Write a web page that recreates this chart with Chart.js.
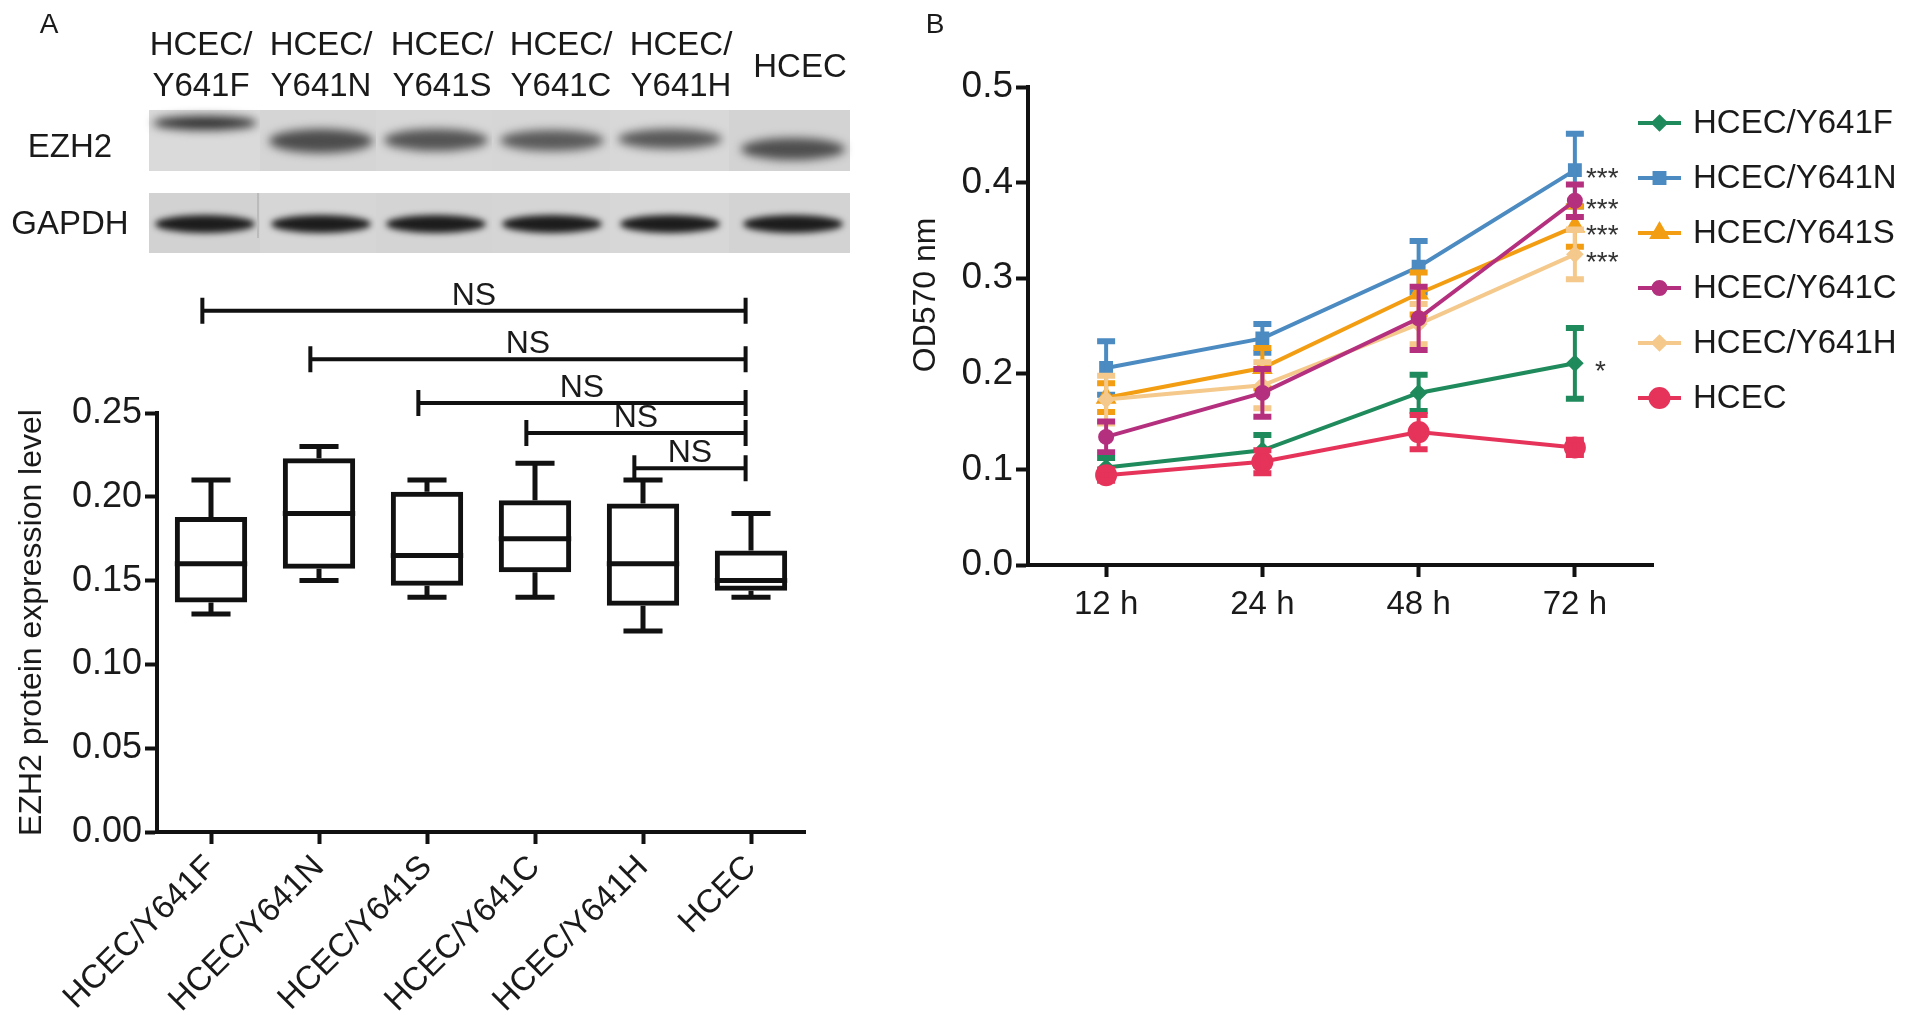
<!DOCTYPE html>
<html><head><meta charset="utf-8">
<script src="https://cdn.jsdelivr.net/npm/chart.js@4.4.1/dist/chart.umd.min.js"></script>
<style>
html,body{margin:0;padding:0;background:#fff;width:1913px;height:1030px;overflow:hidden;font-family:'Liberation Sans',Arial,sans-serif;color:#1a1a1a}
canvas{position:absolute;top:0}
#cA{left:0}
#cB{left:880px}
.t{position:absolute;transform:translate(-50%,-50%);white-space:nowrap;text-align:center;color:#1a1a1a}
.lane{position:absolute;background:#d6d6d6}
.band{position:absolute;border-radius:50%}
</style></head>
<body>
<canvas id="cA" width="870" height="1030"></canvas>
<canvas id="cB" width="1033" height="1030"></canvas>
<div id="deco"></div>
<script>
// ---------- Panel A data ----------
const boxCategories = ['HCEC/Y641F','HCEC/Y641N','HCEC/Y641S','HCEC/Y641C','HCEC/Y641H','HCEC'];
const boxMin    = [0.130, 0.150, 0.140, 0.140, 0.120, 0.140];
const boxQ1     = [0.137, 0.157, 0.147, 0.155, 0.135, 0.144];
const boxMedian = [0.160, 0.190, 0.165, 0.175, 0.160, 0.150];
const boxQ3     = [0.188, 0.223, 0.203, 0.198, 0.196, 0.168];
const boxMax    = [0.210, 0.230, 0.210, 0.220, 0.210, 0.190];
const nsFrom  = [0, 1, 2, 3, 4];
const nsTo    = [5, 5, 5, 5, 5];
const nsLevel = [0.311, 0.282, 0.256, 0.238, 0.217];
const nsLabel = ['NS','NS','NS','NS','NS'];
const blotLanes = [['HCEC/','Y641F'],['HCEC/','Y641N'],['HCEC/','Y641S'],['HCEC/','Y641C'],['HCEC/','Y641H'],['HCEC']];

// ---------- Panel B data ----------
const timePoints = ['12 h','24 h','48 h','72 h'];
const seriesNames = ['HCEC/Y641F','HCEC/Y641N','HCEC/Y641S','HCEC/Y641C','HCEC/Y641H','HCEC'];
const odY641F = [0.102, 0.120, 0.180, 0.211];
const sdY641F = [0.010, 0.016, 0.019, 0.037];
const odY641N = [0.206, 0.237, 0.312, 0.413];
const sdY641N = [0.028, 0.015, 0.027, 0.038];
const odY641S = [0.175, 0.206, 0.284, 0.354];
const sdY641S = [0.015, 0.021, 0.022, 0.021];
const odY641C = [0.134, 0.180, 0.258, 0.381];
const sdY641C = [0.016, 0.025, 0.033, 0.017];
const odY641H = [0.173, 0.188, 0.252, 0.325];
const sdY641H = [0.025, 0.024, 0.021, 0.026];
const odHCEC  = [0.094, 0.108, 0.139, 0.123];
const sdHCEC  = [0.006, 0.012, 0.018, 0.008];
const significance = ['*','***','***','***','***',''];

const FONT = "'Liberation Sans', Arial, sans-serif";
const INK = '#111';
const TXT = '#1a1a1a';
Chart.defaults.font.family = FONT;
Chart.defaults.color = TXT;

// ---------- decoration: western blot (image stand-in) ----------
(function(){
  const deco = document.getElementById('deco');
  const add = (cls, css, html) => { const d = document.createElement('div'); d.className = cls; d.style.cssText = css; if (html) d.innerHTML = html; deco.appendChild(d); return d; };
  add('t', 'left:49px;top:24px;font-size:28px', 'A');
  add('t', 'left:935px;top:24px;font-size:28px', 'B');
  const labelX = [201, 321, 442, 561, 681, 800];
  blotLanes.forEach((l, i) => {
    const top = l.length === 2 ? 64 : 65;
    add('t', `left:${labelX[i]}px;top:${top}px;font-size:33px;line-height:41px`, l.join('<br>'));
  });
  add('t', 'left:70px;top:146px;font-size:33px', 'EZH2');
  add('t', 'left:70px;top:223px;font-size:33px', 'GAPDH');
  const laneL = [149, 260, 376, 492, 610, 729];
  const laneR = [260, 376, 492, 610, 729, 850];
  const bandX = [205, 321, 436, 552, 670, 793];
  const ezhY = [123, 141, 140, 140, 139, 149];
  const ezhH = [14, 24, 22, 21, 20, 22];
  const ezhC = ['#303030', '#4c4c4c', '#545454', '#5a5a5a', '#585858', '#4e4e4e'];
  const ezhBg = ['#dadada', '#d5d5d5', '#d7d7d7', '#d6d6d6', '#d8d8d8', '#d3d3d3'];
  const gBg = ['#d2d2d2', '#d6d6d6', '#d4d4d4', '#d5d5d5', '#d7d7d7', '#d3d3d3'];
  for (let i = 0; i < 6; i++) {
    add('lane', `left:${laneL[i]}px;top:110px;width:${laneR[i]-laneL[i]}px;height:61px;background:${ezhBg[i]}`);
    add('lane', `left:${laneL[i]}px;top:193px;width:${laneR[i]-laneL[i]}px;height:60px;background:${gBg[i]}`);
    add('band', `left:${bandX[i]-52}px;top:${ezhY[i]-ezhH[i]/2}px;width:104px;height:${ezhH[i]}px;background:${ezhC[i]};filter:blur(5px)`);
    add('band', `left:${bandX[i]-50}px;top:${224-9}px;width:100px;height:18px;background:#1c1c1c;filter:blur(3px)`);
  }
  add('lane', 'left:257px;top:193px;width:2px;height:45px;background:#bbb');
})();

// ---------- Panel A: box plot ----------
const boxPlugin = {
  id: 'boxWhiskers',
  afterDatasetsDraw(chart) {
    const meta = chart.getDatasetMeta(0), y = chart.scales.y, ctx = chart.ctx;
    ctx.save();
    ctx.strokeStyle = INK; ctx.lineWidth = 5; ctx.lineCap = 'butt';
    meta.data.forEach((bar, i) => {
      const half = bar.width / 2, cap = bar.width * 0.27;
      const yMin = y.getPixelForValue(boxMin[i]), yQ1 = y.getPixelForValue(boxQ1[i]);
      const yMed = y.getPixelForValue(boxMedian[i]);
      const yQ3 = y.getPixelForValue(boxQ3[i]), yMax = y.getPixelForValue(boxMax[i]);
      ctx.beginPath();
      ctx.moveTo(bar.x - half, yMed); ctx.lineTo(bar.x + half, yMed);
      ctx.moveTo(bar.x, yQ3); ctx.lineTo(bar.x, yMax);
      ctx.moveTo(bar.x - cap, yMax); ctx.lineTo(bar.x + cap, yMax);
      ctx.moveTo(bar.x, yQ1); ctx.lineTo(bar.x, yMin);
      ctx.moveTo(bar.x - cap, yMin); ctx.lineTo(bar.x + cap, yMin);
      ctx.stroke();
    });
    ctx.restore();
  }
};
const nsPlugin = {
  id: 'nsBrackets',
  afterDraw(chart) {
    const x = chart.scales.x, y = chart.scales.y, ctx = chart.ctx;
    const w = x.getPixelForValue(1) - x.getPixelForValue(0);
    ctx.save();
    ctx.strokeStyle = INK; ctx.lineWidth = 4; ctx.fillStyle = TXT;
    ctx.font = '32px ' + FONT; ctx.textAlign = 'center'; ctx.textBaseline = 'alphabetic';
    nsFrom.forEach((f, k) => {
      const x1 = x.getPixelForValue(f) - 0.08 * w, x2 = x.getPixelForValue(nsTo[k]) - 0.05 * w;
      const yy = y.getPixelForValue(nsLevel[k]);
      ctx.beginPath();
      ctx.moveTo(x1, yy); ctx.lineTo(x2, yy);
      ctx.moveTo(x1, yy - 13); ctx.lineTo(x1, yy + 13);
      ctx.moveTo(x2, yy - 13); ctx.lineTo(x2, yy + 13);
      ctx.stroke();
      ctx.fillText(nsLabel[k], (x1 + x2) / 2, yy - 6);
    });
    ctx.restore();
  }
};
new Chart(document.getElementById('cA'), {
  type: 'bar',
  data: {
    labels: boxCategories,
    datasets: [{
      data: boxQ1.map((q, i) => [q, boxQ3[i]]),
      backgroundColor: 'rgba(255,255,255,0)',
      borderColor: INK, borderWidth: 5, borderSkipped: false,
      barPercentage: 0.67, categoryPercentage: 1
    }]
  },
  options: {
    responsive: false, animation: false, devicePixelRatio: 1,
    layout: { padding: { top: 413, right: 65, left: 0, bottom: 0 } },
    plugins: { legend: { display: false }, tooltip: { enabled: false } },
    scales: {
      x: {
        offset: true,
        grid: { offset: false, drawOnChartArea: false, drawTicks: true, tickLength: 12, tickWidth: 4, tickColor: INK },
        border: { display: true, width: 4, color: INK },
        ticks: { autoSkip: false, maxRotation: 45, minRotation: 45, padding: 4, font: { size: 33 }, color: TXT },
        afterFit(s) { s.height = 198; }
      },
      y: {
        min: 0, max: 0.25,
        grid: { drawOnChartArea: false, drawTicks: true, tickLength: 12, tickWidth: 4, tickColor: INK },
        border: { display: true, width: 4, color: INK },
        ticks: { stepSize: 0.05, padding: 3, font: { size: 36 }, color: TXT, callback: v => v.toFixed(2) },
        title: { display: true, text: 'EZH2 protein expression level', font: { size: 32 }, color: TXT, padding: { top: 13, bottom: 0 } },
        afterFit(s) { s.width = 157; }
      }
    }
  },
  plugins: [boxPlugin, nsPlugin]
});

// ---------- Panel B: growth curves ----------
const seriesValues = [odY641F, odY641N, odY641S, odY641C, odY641H, odHCEC];
const seriesErrors = [sdY641F, sdY641N, sdY641S, sdY641C, sdY641H, sdHCEC];
const seriesColors = ['#1f8a5b', '#4b8bc1', '#f29d12', '#b4307f', '#f4c98b', '#e5335a'];
const seriesStyles = ['rectRot', 'rect', 'triangle', 'circle', 'rectRot', 'circle'];
const seriesRadius = [6, 7, 8, 6, 6, 9];
const seriesOrder  = [1, 5, 4, 2, 3, 0];

const errPlugin = {
  id: 'errorBars',
  afterDatasetDraw(chart, args) {
    const ds = chart.data.datasets[args.index], y = chart.scales.y, ctx = chart.ctx;
    const errs = seriesErrors[args.index];
    ctx.save();
    ctx.strokeStyle = ds.borderColor;
    args.meta.data.forEach((pt, i) => {
      const yt = y.getPixelForValue(ds.data[i] + errs[i]), yb = y.getPixelForValue(ds.data[i] - errs[i]);
      ctx.lineWidth = 4;
      ctx.beginPath(); ctx.moveTo(pt.x, yt); ctx.lineTo(pt.x, yb); ctx.stroke();
      ctx.lineWidth = 6;
      ctx.beginPath();
      ctx.moveTo(pt.x - 9, yt); ctx.lineTo(pt.x + 9, yt);
      ctx.moveTo(pt.x - 9, yb); ctx.lineTo(pt.x + 9, yb);
      ctx.stroke();
    });
    ctx.restore();
  }
};
const starPlugin = {
  id: 'stars',
  afterDatasetsDraw(chart) {
    const ctx = chart.ctx;
    ctx.save();
    ctx.fillStyle = '#333'; ctx.font = '28px ' + FONT; ctx.textAlign = 'left'; ctx.textBaseline = 'alphabetic';
    chart.data.datasets.forEach((ds, i) => {
      if (!significance[i]) return;
      const meta = chart.getDatasetMeta(i), pt = meta.data[meta.data.length - 1];
      ctx.fillText(significance[i], pt.x + (significance[i].length === 1 ? 20 : 11), pt.y + 17);
    });
    ctx.restore();
  }
};
const legendPlugin = {
  id: 'sideLegend',
  afterDraw(chart) {
    const ctx = chart.ctx, area = chart.chartArea;
    const x0 = area.right - 15, y0 = 123, step = 55;
    ctx.save();
    chart.data.datasets.forEach((ds, i) => {
      const yy = y0 + i * step;
      ctx.strokeStyle = ds.borderColor; ctx.fillStyle = ds.backgroundColor; ctx.lineWidth = 4;
      ctx.beginPath(); ctx.moveTo(x0, yy); ctx.lineTo(x0 + 43, yy); ctx.stroke();
      Chart.helpers.drawPoint(ctx, { pointStyle: ds.pointStyle, radius: ds.pointRadius, rotation: 0, borderWidth: 1 }, x0 + 21.5, yy);
      ctx.fillStyle = TXT; ctx.font = '33px ' + FONT; ctx.textBaseline = 'middle'; ctx.textAlign = 'left';
      ctx.fillText(ds.label, x0 + 55, yy + 1);
    });
    ctx.restore();
  }
};
new Chart(document.getElementById('cB'), {
  type: 'line',
  data: {
    labels: timePoints,
    datasets: seriesNames.map((name, i) => ({
      label: name,
      data: seriesValues[i],
      borderColor: seriesColors[i], backgroundColor: seriesColors[i],
      pointBackgroundColor: seriesColors[i], pointBorderColor: seriesColors[i],
      borderWidth: 4, pointStyle: seriesStyles[i], pointRadius: seriesRadius[i],
      tension: 0, order: seriesOrder[i]
    }))
  },
  options: {
    responsive: false, animation: false, devicePixelRatio: 1,
    layout: { padding: { top: 87, right: 260, left: 0, bottom: 395 } },
    plugins: { legend: { display: false }, tooltip: { enabled: false } },
    scales: {
      x: {
        offset: true,
        grid: { drawOnChartArea: false, drawTicks: true, tickLength: 12, tickWidth: 4, tickColor: INK },
        border: { display: true, width: 4, color: INK },
        ticks: { padding: 8, font: { size: 33 }, color: TXT, maxRotation: 0 },
        afterFit(s) { s.height = 70; }
      },
      y: {
        min: 0, max: 0.5,
        grid: { drawOnChartArea: false, drawTicks: true, tickLength: 12, tickWidth: 4, tickColor: INK },
        border: { display: true, width: 4, color: INK },
        ticks: { stepSize: 0.1, padding: 3, font: { size: 37 }, color: TXT, callback: v => v.toFixed(1) },
        title: { display: true, text: '\u00A0\u00A0\u00A0\u00A0\u00A0\u00A0\u00A0OD570 nm', font: { size: 32 }, color: TXT, padding: { top: 27, bottom: 0 } },
        afterFit(s) { s.width = 148; }
      }
    }
  },
  plugins: [errPlugin, starPlugin, legendPlugin]
});
</script>
</body></html>
